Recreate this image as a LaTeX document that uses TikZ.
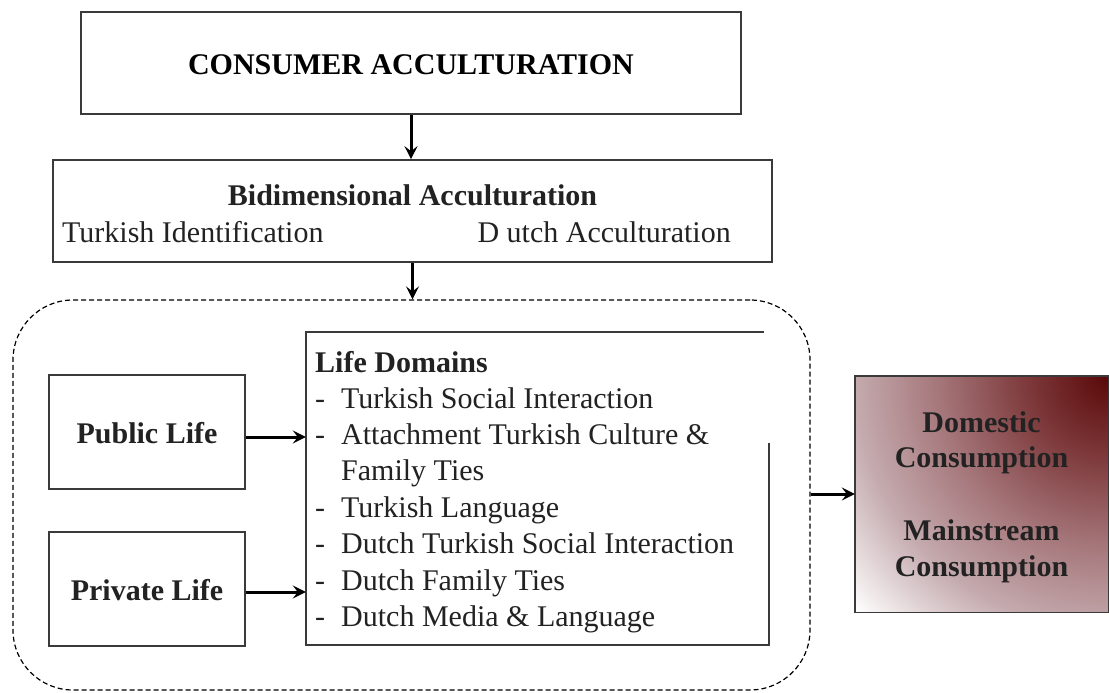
\documentclass[tikz,border=0pt]{standalone}
\usepackage{fontspec}
\setmainfont{Liberation Serif}
\usetikzlibrary{arrows.meta,calc}
\definecolor{ink}{HTML}{222222}
\definecolor{edge}{HTML}{3A3A3A}
\definecolor{wine}{HTML}{5A0808}
\definecolor{rust}{HTML}{7E3A3C}
\definecolor{mauve}{HTML}{A6787C}
\definecolor{blush}{HTML}{C4AAAE}
% radial fade from the top-right corner of the outcome box
\pgfdeclareradialshading{consumptionshade}{\pgfpoint{0bp}{0bp}}{color(0bp)=(wine); color(6bp)=(rust); color(12.5bp)=(mauve); color(18.3bp)=(blush); color(25bp)=(white); color(50bp)=(white)}

\begin{document}
\begin{tikzpicture}[x=1pt,y=-1pt,
  txt/.style={font=\fontsize{30}{36}\selectfont, text=ink, inner sep=0pt},
  bold/.style={font=\fontsize{30}{36}\selectfont\bfseries, text=ink, inner sep=0pt},
  boxed/.style={draw=edge, line width=1.6pt, inner sep=0pt},
  arr/.style={-{Stealth[length=13pt,width=13pt,inset=5pt]}, line width=3pt, black},
]
\useasboundingbox (0,0) rectangle (1109,693);

% top concept
\node[boxed, minimum width=660pt, minimum height=102pt] (top) at (411,63) {};
\node[bold, text=black] (title) at (411,65) {CONSUMER ACCULTURATION};

% bidimensional acculturation
\node[boxed, minimum width=719pt, minimum height=102pt] (bidim) at (412.5,211) {};
\node[bold, anchor=base] (bidimtitle) at (412.5,205) {Bidimensional Acculturation};
\node[txt, anchor=base west] (turkid) at (62,242) {Turkish Identification};
\node[txt, anchor=base east] (dutchacc) at (731,242) {D utch Acculturation};

% dashed frame around the life spheres
\node[draw, dashed, dash pattern=on 5pt off 3pt, line width=1.2pt, rounded corners=60pt,
      minimum width=797pt, minimum height=390pt, inner sep=0pt] (dom) at (411.5,495) {};

% public and private life
\node[boxed, minimum width=196pt, minimum height=114pt] (pub) at (147,432) {};
\node[bold, anchor=base] (publabel) at (147,443) {Public Life};
\node[boxed, minimum width=196pt, minimum height=114pt] (priv) at (147,589) {};
\node[bold, anchor=base] (privlabel) at (147,600) {Private Life};

% life domains list
\node[minimum width=463pt, minimum height=313pt, inner sep=0pt] (ld) at (537.5,488.5) {};
\draw[edge, line width=1.6pt] ([xshift=-5pt]ld.north east) -- (ld.north west) -- (ld.south west)
      -- (ld.south east) -- ([yshift=-111pt]ld.north east);
\node[bold, anchor=base west] (ldtitle) at (315,372) {Life Domains};
\foreach \n/\yy/\dash/\item in {a/408/-/Turkish Social Interaction,
    b/444/-/Attachment Turkish Culture \&,
    c/480//Family Ties,
    d/517/-/Turkish Language,
    e/553/-/Dutch Turkish Social Interaction,
    f/590/-/Dutch Family Ties,
    g/626/-/Dutch Media \& Language}{
  \node[txt, anchor=base west] (dash\n) at (315,\yy) {\dash};
  \node[txt, anchor=base west] (item\n) at (341,\yy) {\item};
}

% outcome box
\node[minimum width=253pt, minimum height=236pt, inner sep=0pt] (out) at (981.5,494) {};
\begin{scope}
  \clip (out.south west) rectangle (out.north east);
  \shade[shading=consumptionshade] (out.north east) circle (346pt);
\end{scope}
\draw[edge, line width=1.4pt] (out.south west) rectangle (out.north east);
\node[bold, anchor=base] (o1) at (981.5,432) {Domestic};
\node[bold, anchor=base] (o2) at (981.5,467) {Consumption};
\node[bold, anchor=base] (o3) at (981.5,540) {Mainstream};
\node[bold, anchor=base] (o4) at (981.5,576) {Consumption};

% connectors
\draw[arr] (top.south) -- (top.south |- bidim.north);
\draw[arr] (bidim.south) -- (bidim.south |- dom.north);
\draw[arr] ([yshift=-5pt]pub.east) -- ([yshift=-5pt]pub.east -| ld.west);
\draw[arr] ([yshift=-3pt]priv.east) -- ([yshift=-3pt]priv.east -| ld.west);
\draw[arr] (out.west -| dom.east) -- (out.west);
\end{tikzpicture}
\end{document}
